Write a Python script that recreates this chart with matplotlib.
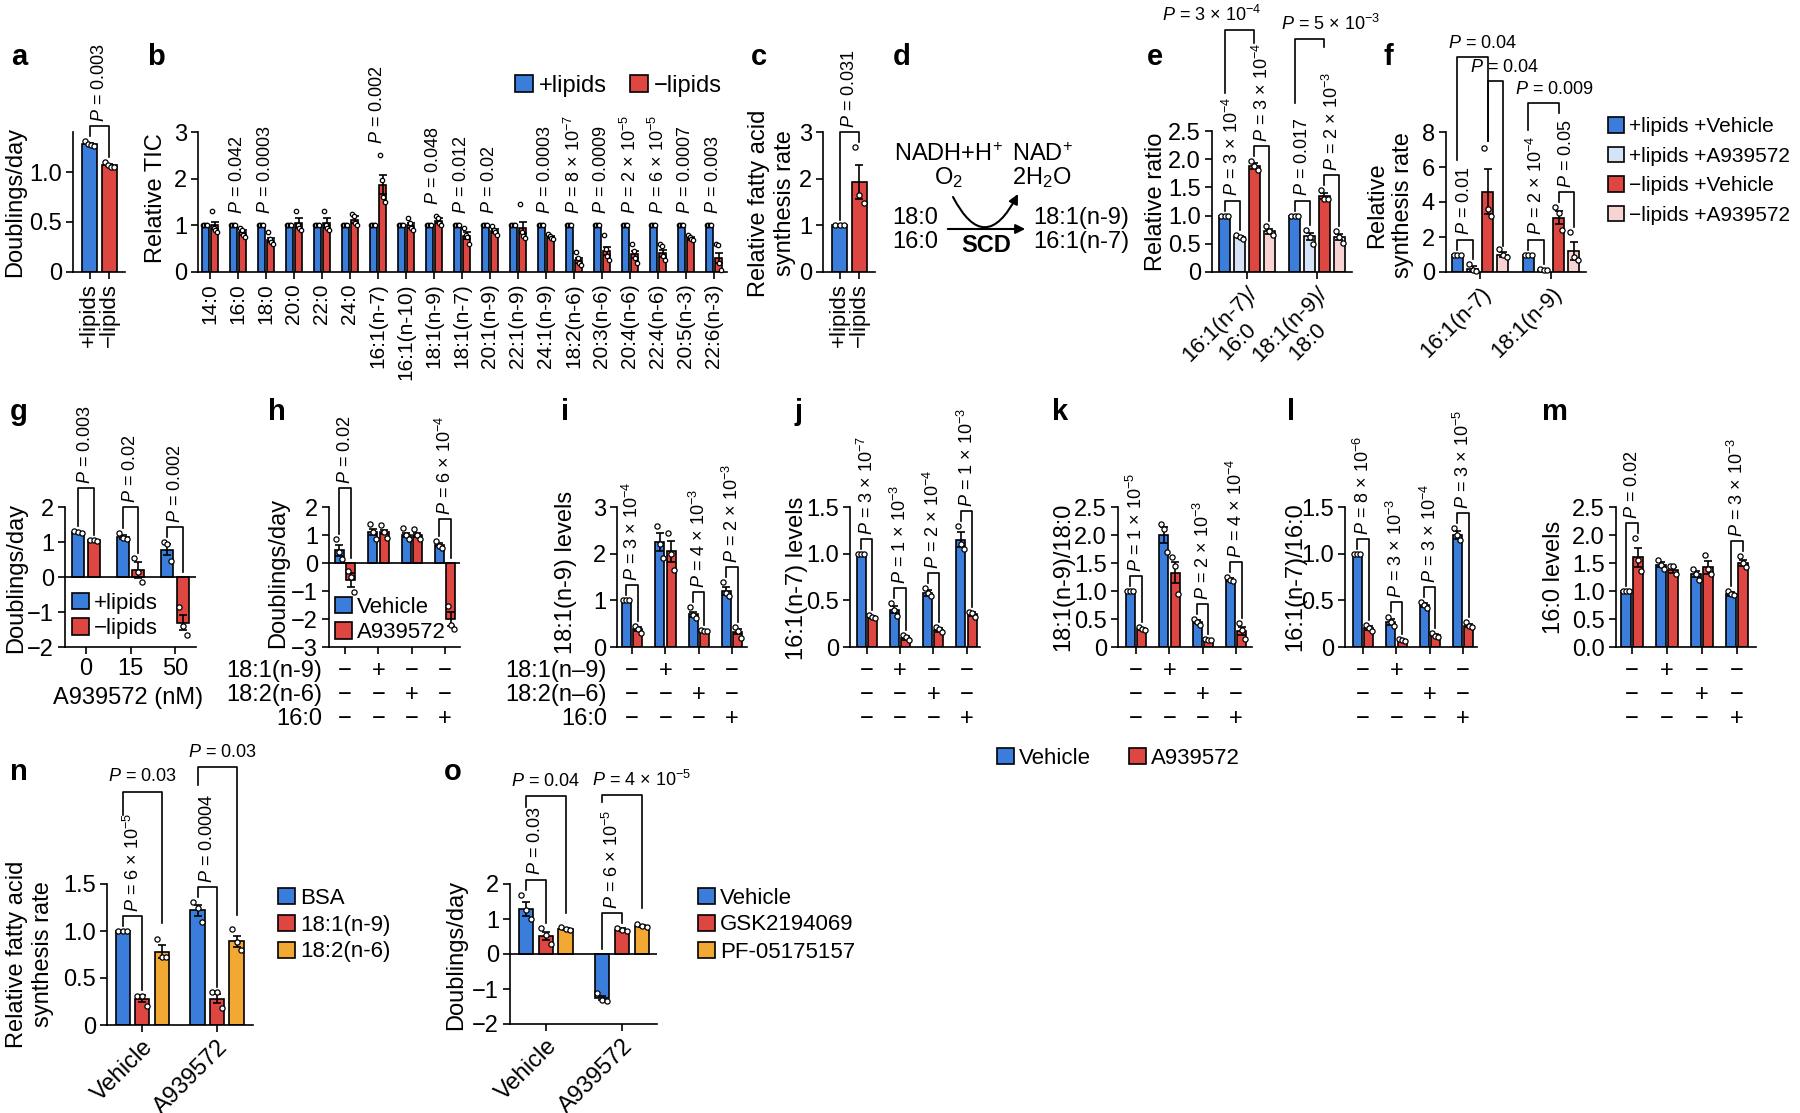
import numpy as np
import matplotlib
matplotlib.use('Agg')
import matplotlib.pyplot as plt
import matplotlib.transforms as mtransforms
from matplotlib.patches import Patch, FancyArrowPatch
from matplotlib.path import Path
from matplotlib.legend import Legend

plt.rcParams['font.family'] = ['Liberation Sans', 'DejaVu Sans']
plt.rcParams['mathtext.fontset'] = 'custom'
plt.rcParams['mathtext.rm'] = 'Liberation Sans'
plt.rcParams['mathtext.it'] = 'Liberation Sans:italic'
plt.rcParams['mathtext.bf'] = 'Liberation Sans:bold'
plt.rcParams['font.size'] = 17
plt.rcParams['axes.linewidth'] = 1.2

BLUE = '#3B7DDA'
LBLUE = '#D5E3F7'
RED = '#DD4641'
PINK = '#F7D3D3'
ORANGE = '#F1A934'
FS = 17

# ---------------- data ----------------
# a
lipid_conds = ['+lipids', '−lipids']
a_mean = [1.28, 1.07]
a_sem = [0.01, 0.01]
a_pts = [[1.31, 1.28, 1.27, 1.26], [1.10, 1.07, 1.05, 1.05]]
a_p = '0.003'

# b
b_species = ['14:0', '16:0', '18:0', '20:0', '22:0', '24:0', '16:1(n-7)', '16:1(n-10)',
             '18:1(n-9)', '18:1(n-7)', '20:1(n-9)', '22:1(n-9)', '24:1(n-9)', '18:2(n-6)',
             '20:3(n-6)', '20:4(n-6)', '22:4(n-6)', '20:5(n-3)', '22:6(n-3)']
b_plus = [1.0, 1.0, 1.0, 1.0, 1.0, 1.0, 1.0, 1.0, 1.0, 1.0, 1.0, 1.0, 1.0, 1.0, 1.0, 1.0, 1.0, 1.0, 1.0]
b_plus_pts = [[1.0, 1.0, 1.0, 1.0] for _ in b_species]
b_minus = [1.0, 0.85, 0.68, 1.05, 1.05, 1.12, 1.87, 1.0, 1.1, 0.78, 0.88, 0.95, 0.75,
           0.25, 0.45, 0.38, 0.4, 0.72, 0.3]
b_minus_sem = [0.08, 0.05, 0.04, 0.1, 0.1, 0.08, 0.2, 0.06, 0.05, 0.07, 0.04, 0.12, 0.03,
               0.05, 0.08, 0.07, 0.07, 0.03, 0.1]
b_minus_pts = [
    [1.30, 0.95, 0.90, 0.85], [0.95, 0.90, 0.80, 0.75], [0.85, 0.70, 0.65, 0.60],
    [1.30, 1.00, 0.95, 0.90], [1.30, 1.00, 0.95, 0.90], [1.25, 1.20, 1.05, 1.00],
    [2.50, 1.97, 1.60, 1.50], [1.15, 1.05, 0.95, 0.90], [1.20, 1.15, 1.05, 1.00],
    [0.95, 0.80, 0.75, 0.60], [0.98, 0.90, 0.85, 0.80], [1.45, 0.85, 0.78, 0.72],
    [0.82, 0.78, 0.72, 0.70], [0.42, 0.30, 0.20, 0.15], [0.80, 0.50, 0.35, 0.25],
    [0.60, 0.45, 0.30, 0.20], [0.60, 0.55, 0.35, 0.25], [0.80, 0.75, 0.70, 0.68],
    [0.60, 0.58, 0.20, 0.05]]
b_p = {1: '0.042', 2: '0.0003', 6: '0.002', 8: '0.048', 9: '0.012', 10: '0.02',
       12: '0.0003', 13: '8e-7', 14: '0.0009', 15: '2e-5', 16: '6e-5', 17: '0.0007', 18: '0.003'}

# c
c_mean = [1.0, 1.93]
c_sem = [0.0, 0.36]
c_pts = [[1.0, 1.0, 1.0], [2.68, 1.65, 1.48]]
c_p = '0.031'

# e
e_groups = ['16:1(n-7)/\n16:0', '18:1(n-9)/\n18:0']
e_mean = [[1.0, 0.62, 1.88, 0.72], [1.0, 0.63, 1.35, 0.62]]
e_sem = [[0.0, 0.02, 0.05, 0.05], [0.0, 0.07, 0.05, 0.05]]
e_pts = [[[1, 1, 1], [0.66, 0.62, 0.58], [1.97, 1.88, 1.80], [0.82, 0.72, 0.65]],
         [[1, 1, 1], [0.75, 0.62, 0.50], [1.45, 1.30, 1.30], [0.72, 0.62, 0.52]]]
e_p_pair = [['3e-4', '3e-4'], ['0.017', '2e-3']]
e_p_cross = ['3e-4', '5e-3']

# f
f_groups = ['16:1(n-7)', '18:1(n-9)']
f_mean = [[1.0, 0.2, 4.6, 1.0], [1.0, 0.1, 3.1, 1.2]]
f_sem = [[0.0, 0.12, 1.3, 0.15], [0.0, 0.02, 0.38, 0.5]]
f_pts = [[[1, 1, 1], [0.45, 0.1, 0.05], [7.1, 3.6, 3.2], [1.3, 1.0, 0.85]],
         [[1, 1, 1], [0.15, 0.12, 0.1], [3.7, 3.4, 2.4], [2.29, 0.86, 0.7]]]
f_p_pair = [['0.01', None], ['2e-4', '0.05']]
f_p_cross = ['0.04', '0.04', '0.009']
f_legend = ['+lipids +Vehicle', '+lipids +A939572', '−lipids +Vehicle', '−lipids +A939572']

# g
g_doses = ['0', '15', '50']
g_plus = [1.28, 1.15, 0.78]
g_plus_sem = [0.02, 0.05, 0.15]
g_plus_pts = [[1.32, 1.28, 1.26], [1.25, 1.12, 1.08], [1.0, 0.95, 0.45]]
g_minus = [1.05, 0.2, -1.3]
g_minus_sem = [0.01, 0.22, 0.22]
g_minus_pts = [[1.07, 1.05, 1.04], [0.55, 0.15, -0.15], [-0.85, -1.4, -1.65]]
g_p = ['0.003', '0.02', '0.002']

# h - m (Vehicle vs A939572, four supplement conditions)
cond_names_h = ['18:1(n-9)', '18:2(n-6)', '16:0']
cond_names_i = ['18:1(n–9)', '18:2(n–6)', '16:0']
cond_signs = [['−', '+', '−', '−'], ['−', '−', '+', '−'], ['−', '−', '−', '+']]
drug_legend = ['Vehicle', 'A939572']

h_veh = [0.45, 1.1, 1.0, 0.65]
h_veh_sem = [0.2, 0.1, 0.08, 0.05]
h_veh_pts = [[0.85, 0.4, 0.15], [1.4, 1.1, 0.85], [1.25, 1.0, 0.85], [0.8, 0.62, 0.55]]
h_a9 = [-0.6, 1.1, 1.0, -2.0]
h_a9_sem = [0.25, 0.08, 0.06, 0.25]
h_a9_pts = [[-0.3, -0.5, -1.05], [1.35, 1.1, 0.9], [1.2, 1.0, 0.85], [-1.55, -2.2, -2.35]]
h_p = {0: '0.02', 3: '6e-4'}

i_veh = [1.0, 2.25, 0.7, 1.2]
i_veh_sem = [0.0, 0.2, 0.06, 0.08]
i_veh_pts = [[1, 1, 1], [2.6, 2.2, 1.9], [0.85, 0.68, 0.62], [1.4, 1.15, 1.1]]
i_a9 = [0.38, 2.05, 0.35, 0.33]
i_a9_sem = [0.04, 0.22, 0.01, 0.06]
i_a9_pts = [[0.45, 0.38, 0.3], [2.45, 2.0, 1.65], [0.37, 0.35, 0.34], [0.42, 0.35, 0.2]]
i_p = {0: '3e-4', 2: '4e-3', 3: '2e-3'}

j_veh = [1.0, 0.4, 0.58, 1.15]
j_veh_sem = [0.0, 0.04, 0.03, 0.08]
j_veh_pts = [[1, 1, 1], [0.47, 0.4, 0.33], [0.63, 0.58, 0.55], [1.3, 1.1, 1.05]]
j_a9 = [0.32, 0.1, 0.18, 0.35]
j_a9_sem = [0.01, 0.02, 0.02, 0.02]
j_a9_pts = [[0.34, 0.32, 0.31], [0.13, 0.11, 0.08], [0.21, 0.19, 0.16], [0.38, 0.36, 0.32]]
j_p = {0: '3e-7', 1: '1e-3', 2: '2e-4', 3: '1e-3'}

k_veh = [1.0, 2.0, 0.45, 1.2]
k_veh_sem = [0.0, 0.15, 0.03, 0.03]
k_veh_pts = [[1, 1, 1], [2.2, 2.1, 1.7], [0.5, 0.45, 0.4], [1.25, 1.2, 1.18]]
k_a9 = [0.32, 1.33, 0.13, 0.28]
k_a9_sem = [0.02, 0.18, 0.02, 0.07]
k_a9_pts = [[0.35, 0.33, 0.3], [1.6, 1.45, 0.95], [0.15, 0.13, 0.12], [0.42, 0.3, 0.15]]
k_p = {0: '1e-5', 2: '2e-3', 3: '4e-4'}

l_veh = [1.0, 0.27, 0.45, 1.2]
l_veh_sem = [0.0, 0.03, 0.02, 0.04]
l_veh_pts = [[1, 1, 1], [0.32, 0.27, 0.22], [0.48, 0.45, 0.42], [1.27, 1.2, 1.15]]
l_a9 = [0.2, 0.07, 0.13, 0.23]
l_a9_sem = [0.02, 0.01, 0.01, 0.02]
l_a9_pts = [[0.24, 0.2, 0.17], [0.09, 0.07, 0.06], [0.15, 0.12, 0.11], [0.27, 0.23, 0.21]]
l_p = {0: '8e-6', 1: '3e-3', 2: '3e-4', 3: '3e-5'}

m_veh = [1.0, 1.47, 1.3, 0.95]
m_veh_sem = [0.0, 0.05, 0.05, 0.04]
m_veh_pts = [[1, 1, 1], [1.55, 1.47, 1.4], [1.4, 1.3, 1.2], [1.0, 0.95, 0.92]]
m_a9 = [1.6, 1.38, 1.42, 1.5]
m_a9_sem = [0.17, 0.05, 0.12, 0.05]
m_a9_pts = [[1.95, 1.55, 1.35], [1.45, 1.45, 1.3], [1.65, 1.4, 1.3], [1.62, 1.5, 1.42]]
m_p = {0: '0.02', 3: '3e-3'}

# n
no_groups = ['Vehicle', 'A939572']
n_legend = ['BSA', '18:1(n-9)', '18:2(n-6)']
n_mean = [[1.0, 0.28, 0.78], [1.22, 0.28, 0.89]]
n_sem = [[0.0, 0.04, 0.07], [0.06, 0.05, 0.06]]
n_pts = [[[1, 1, 1], [0.31, 0.31, 0.2], [0.91, 0.72, 0.72]],
         [[1.31, 1.25, 1.1], [0.35, 0.35, 0.18], [1.02, 0.88, 0.8]]]
n_p_pair = ['6e-5', '0.0004']
n_p_cross = ['0.03', '0.03']

# o
o_legend = ['Vehicle', 'GSK2194069', 'PF-05175157']
o_mean = [[1.3, 0.52, 0.72], [-1.25, 0.7, 0.8]]
o_sem = [[0.2, 0.12, 0.03], [0.05, 0.03, 0.02]]
o_pts = [[[1.7, 1.25, 1.0], [0.75, 0.55, 0.3], [0.78, 0.72, 0.7]],
         [[-1.1, -1.3, -1.35], [0.75, 0.7, 0.67], [0.85, 0.8, 0.78]]]
o_p_pair = ['0.03', '6e-5']
o_p_cross = ['0.04', '4e-5']

# ---------------- figure ----------------
W, H = 1800, 1113
fig = plt.figure(figsize=(18, 11.13), dpi=100)
ov = fig.add_axes([0, 0, 1, 1])
ov.set_xlim(0, W)
ov.set_ylim(H, 0)
ov.axis('off')


def ptxt(s):
    if 'e' in s:
        m, e = s.split('e')
        return '$P$ = ' + m + ' × 10$^{' + e + '}$'
    return '$P$ = ' + s


def new_ax(x0, x1, ytop, ybot, ylim, xlim):
    ax = fig.add_axes([x0 / W, 1 - ybot / H, (x1 - x0) / W, (ybot - ytop) / H])
    ax.set_ylim(ylim)
    ax.set_xlim(xlim)
    for s in ['top', 'right']:
        ax.spines[s].set_visible(False)
    ax.tick_params(direction='out', length=5, width=1.2, pad=3, labelsize=FS)
    ax.patch.set_visible(False)
    ax.ppu = (ybot - ytop) / (ylim[1] - ylim[0])
    return ax


def draw_bars(ax, xs, means, sems, pts, colors, width, ms=14):
    tops = []
    for x, m, s, p, c in zip(xs, means, sems, pts, colors):
        ax.bar(x, m, width, color=c, edgecolor='black', linewidth=1.2, zorder=2)
        if s > 0:
            ax.errorbar(x, m, yerr=s, fmt='none', ecolor='black', elinewidth=1.2,
                        capsize=3, capthick=1.2, zorder=3)
        off = np.linspace(-0.33, 0.33, len(p)) * width
        ax.scatter(x + off, p, s=ms, facecolor='white', edgecolor='black',
                   linewidths=0.9, zorder=4, clip_on=False)
        tops.append(max([m + s, 0] + list(p)))
    return tops


def pbracket(ax, x1, x2, t1, t2, text, top=None):
    g = 5 / ax.ppu
    y1, y2 = t1 + g, t2 + g
    if top is None:
        top = max(y1, y2) + 10 / ax.ppu
    ax.plot([x1, x1, x2, x2], [y1, top, top, y2], color='black', lw=1.2,
            clip_on=False, zorder=5)
    ax.annotate(ptxt(text), ((x1 + x2) / 2, top), xytext=(0, 3), textcoords='offset points',
                rotation=90, ha='center', va='bottom', fontsize=13, annotation_clip=False)


def hbracket(ax, x1, x2, y1, y2, top, text, tx, ty):
    ax.plot([x1, x1, x2, x2], [y1, top, top, y2], color='black', lw=1.2,
            clip_on=False, zorder=5)
    ax.text(tx, ty, ptxt(text), ha='center', va='bottom', fontsize=13)


def add_legend(labels, colors, x, y, ncol=1, spacing=0.3, colsp=1.0, fs=16):
    hs = [Patch(facecolor=c, edgecolor='black', linewidth=1.2) for c in colors]
    leg = Legend(ov, hs, labels, loc='center left', bbox_to_anchor=(x, y),
                 bbox_transform=ov.transData, ncol=ncol, frameon=False, borderpad=0,
                 borderaxespad=0, handlelength=0.75, handleheight=0.75, handletextpad=0.25,
                 labelspacing=spacing, columnspacing=colsp, fontsize=fs)
    ov.add_artist(leg)


def ylab(x, y, s):
    ov.text(x, y, s, rotation=90, ha='center', va='center', fontsize=FS, multialignment='center')


def letter(x, y, s):
    ov.text(x, y, s, fontsize=21, fontweight='bold', ha='left', va='baseline')


ROW_Y = [671, 695, 719]


def sign_rows(ax):
    tr = mtransforms.blended_transform_factory(ax.transData, ov.transData)
    for ys, signs in zip(ROW_Y, cond_signs):
        for gi, s in enumerate(signs):
            ax.text(gi, ys, s, transform=tr, ha='center', va='center', fontsize=FS)


# ---- a ----
ax = new_ax(73, 125, 132, 272, (0, 1.4), (-0.83, 1.78))
t = draw_bars(ax, [0, 1], a_mean, a_sem, a_pts, [BLUE, RED], 0.75)
ax.set_yticks([0, 0.5, 1.0], ['0', '0.5', '1.0'])
ax.set_xticks([0, 1], lipid_conds, rotation=90, fontsize=16)
pbracket(ax, 0, 1, t[0], t[1], a_p)
ylab(15, 202, 'Doublings/day')
letter(11, 65, 'a')

# ---- b ----
ax = new_ax(198, 727, 132, 272, (0, 3), (-0.42, 18.47))
xs = np.arange(len(b_species))
tb = draw_bars(ax, xs - 0.17, b_plus, [0] * len(xs), b_plus_pts, [BLUE] * len(xs), 0.25, ms=10)
tr_ = draw_bars(ax, xs + 0.17, b_minus, b_minus_sem, b_minus_pts, [RED] * len(xs), 0.25, ms=10)
ax.set_yticks([0, 1, 2, 3])
ax.set_xticks(xs, b_species, rotation=90, fontsize=15)
for i, s in b_p.items():
    ax.annotate(ptxt(s), (i, max(tb[i], tr_[i])), xytext=(0, 8), textcoords='offset points',
                rotation=90, ha='center', va='bottom', fontsize=13, annotation_clip=False)
ylab(156, 198, 'Relative TIC')
letter(147, 65, 'b')
add_legend(lipid_conds, [BLUE, RED], 515, 86, ncol=2, colsp=1.0, fs=17)

# ---- c ----
ax = new_ax(823, 875, 132, 272, (0, 3), (-0.83, 1.78))
t = draw_bars(ax, [0, 1], c_mean, c_sem, c_pts, [BLUE, RED], 0.75)
ax.set_yticks([0, 1, 2, 3])
ax.set_xticks([0, 1], lipid_conds, rotation=90, fontsize=16)
pbracket(ax, 0, 1, t[0], t[1], c_p)
ylab(772, 203, 'Relative fatty acid\nsynthesis rate')
letter(751, 65, 'c')

# ---- d (scheme) ----
letter(893, 65, 'd')
ov.text(948, 155, 'NADH+H$^{+}$', ha='center', va='center', fontsize=FS)
ov.text(948, 178, 'O$_{2}$', ha='center', va='center', fontsize=FS)
ov.text(1042, 155, 'NAD$^{+}$', ha='center', va='center', fontsize=FS)
ov.text(1042, 178, '2H$_{2}$O', ha='center', va='center', fontsize=FS)
ov.text(938, 218, '18:0', ha='right', va='center', fontsize=FS)
ov.text(938, 242, '16:0', ha='right', va='center', fontsize=FS)
ov.text(1033, 218, '18:1(n-9)', ha='left', va='center', fontsize=FS)
ov.text(1033, 242, '16:1(n-7)', ha='left', va='center', fontsize=FS)
ov.text(986, 246, 'SCD', ha='center', va='center', fontsize=FS, fontweight='bold')
ov.add_patch(FancyArrowPatch((945, 229), (1028, 229), arrowstyle='-|>', mutation_scale=14,
                             lw=1.5, color='black'))
curve = Path([(953, 197), (985, 258), (1018, 194)], [Path.MOVETO, Path.CURVE3, Path.CURVE3])
ov.add_patch(FancyArrowPatch(path=curve, arrowstyle='-|>', mutation_scale=14, lw=1.5, color='black'))

# ---- e ----
ax = new_ax(1212, 1352, 131, 272, (0, 2.5), (-0.5, 1.5))
off4 = np.array([-1.5, -0.5, 0.5, 1.5]) * 0.214
for gi in range(2):
    t = draw_bars(ax, gi + off4, e_mean[gi], e_sem[gi], e_pts[gi], [BLUE, LBLUE, RED, PINK], 0.155)
    pbracket(ax, gi + off4[0], gi + off4[1], t[0], t[1], e_p_pair[gi][0])
    pbracket(ax, gi + off4[2], gi + off4[3], t[2], t[3], e_p_pair[gi][1])
hbracket(ax, off4[0], off4[2], 3.17, 4.06, 4.29, e_p_cross[0], -0.5, 4.38)
hbracket(ax, 1 + off4[0], 1 + off4[2], 3.0, 3.99, 4.13, e_p_cross[1], 1.19, 4.22)
ax.set_yticks([0, 0.5, 1.0, 1.5, 2.0, 2.5], ['0', '0.5', '1.0', '1.5', '2.0', '2.5'])
ax.set_xticks([0, 1], e_groups, rotation=45, ha='right', rotation_mode='anchor',
              multialignment='center', fontsize=16)
ylab(1156, 202, 'Relative ratio')
letter(1147, 65, 'e')

# ---- f ----
ax = new_ax(1446, 1586, 132, 272, (0, 8), (-0.48, 1.49))
for gi in range(2):
    t = draw_bars(ax, gi + off4, f_mean[gi], f_sem[gi], f_pts[gi], [BLUE, LBLUE, RED, PINK], 0.155)
    if f_p_pair[gi][0]:
        pbracket(ax, gi + off4[0], gi + off4[1], t[0], t[1], f_p_pair[gi][0])
    if f_p_pair[gi][1]:
        pbracket(ax, gi + off4[2], gi + off4[3], t[2], t[3], f_p_pair[gi][1])
hbracket(ax, off4[0], off4[2], 6.4, 7.5, 12.3, f_p_cross[0], 0.03, 12.6)
hbracket(ax, off4[2], off4[3], 7.5, 1.5, 10.9, f_p_cross[1], 0.34, 11.2)
hbracket(ax, 1 + off4[0], 1 + off4[2], 8.1, 9.1, 9.66, f_p_cross[2], 1.04, 9.95)
ax.set_yticks([0, 2, 4, 6, 8])
ax.set_xticks([0, 1], f_groups, rotation=45, ha='right', rotation_mode='anchor', fontsize=16)
ylab(1390, 205, 'Relative\nsynthesis rate')
letter(1384, 65, 'f')
add_legend(f_legend, [BLUE, LBLUE, RED, PINK], 1608, 171, spacing=0.5, fs=15)

# ---- g ----
ax = new_ax(65, 196, 507, 647, (-2, 2), (-0.47, 2.47))
ax.axhline(0, color='black', lw=1.2, zorder=6)
xs = np.arange(3)
tb = draw_bars(ax, xs - 0.17, g_plus, g_plus_sem, g_plus_pts, [BLUE] * 3, 0.27)
tr_ = draw_bars(ax, xs + 0.17, g_minus, g_minus_sem, g_minus_pts, [RED] * 3, 0.27)
for gi, top in zip(range(3), [2.54, 2.0, None]):
    pbracket(ax, gi - 0.17, gi + 0.17, tb[gi], tr_[gi], g_p[gi], top)
ax.set_yticks([-2, -1, 0, 1, 2], ['−2', '−1', '0', '1', '2'])
ax.set_xticks(xs, g_doses)
ov.text(128, 698, 'A939572 (nM)', ha='center', va='center', fontsize=FS)
ylab(16, 578, 'Doublings/day')
letter(10, 420, 'g')
add_legend(lipid_conds, [BLUE, RED], 72, 616, spacing=0.2)


# ---- h - m ----
def drug_panel(box, ylim, xlim, veh, veh_sem, veh_pts, a9, a9_sem, a9_pts, pvals,
               tops=None, zero_line=False):
    ax = new_ax(*box, ylim, xlim)
    if zero_line:
        ax.axhline(0, color='black', lw=1.2, zorder=6)
    xs = np.arange(4)
    tb = draw_bars(ax, xs - 0.17, veh, veh_sem, veh_pts, [BLUE] * 4, 0.27)
    tr = draw_bars(ax, xs + 0.17, a9, a9_sem, a9_pts, [RED] * 4, 0.27)
    for gi, s in pvals.items():
        top = tops.get(gi) if tops else None
        pbracket(ax, gi - 0.17, gi + 0.17, tb[gi], tr[gi], s, top)
    ax.set_xticks(xs, [''] * 4)
    sign_rows(ax)
    return ax


ax = drug_panel((329, 460, 507, 647), (-3, 2), (-0.48, 3.45), h_veh, h_veh_sem, h_veh_pts,
                h_a9, h_a9_sem, h_a9_pts, h_p, tops={0: 2.68, 3: 1.57}, zero_line=True)
ax.set_yticks([-3, -2, -1, 0, 1, 2], ['−3', '−2', '−1', '0', '1', '2'])
for ys, nm in zip(ROW_Y, cond_names_h):
    ov.text(322, ys, nm, ha='right', va='center', fontsize=FS)
ylab(278, 573, 'Doublings/day')
letter(268, 420, 'h')
add_legend(drug_legend, [BLUE, RED], 335, 620, spacing=0.2)

ax = drug_panel((617, 747, 507, 647), (0, 3), (-0.45, 3.45), i_veh, i_veh_sem, i_veh_pts,
                i_a9, i_a9_sem, i_a9_pts, i_p)
ax.set_yticks([0, 1, 2, 3])
for ys, nm in zip(ROW_Y, cond_names_i):
    ov.text(607, ys, nm, ha='right', va='center', fontsize=FS)
ylab(566, 572, '18:1(n-9) levels')
letter(561, 420, 'i')

ax = drug_panel((850, 980, 507, 647), (0, 1.5), (-0.5, 3.4), j_veh, j_veh_sem, j_veh_pts,
                j_a9, j_a9_sem, j_a9_pts, j_p)
ax.set_yticks([0, 0.5, 1.0, 1.5], ['0', '0.5', '1.0', '1.5'])
ylab(797, 578, '16:1(n-7) levels')
letter(794, 420, 'j')

ax = drug_panel((1118, 1252, 507, 647), (0, 2.5), (-0.54, 3.48), k_veh, k_veh_sem, k_veh_pts,
                k_a9, k_a9_sem, k_a9_pts, k_p)
ax.set_yticks([0, 0.5, 1.0, 1.5, 2.0, 2.5], ['0', '0.5', '1.0', '1.5', '2.0', '2.5'])
ylab(1063, 577, '18:1(n-9)/18:0')
letter(1052, 420, 'k')

ax = drug_panel((1345, 1477, 507, 647), (0, 1.5), (-0.54, 3.42), l_veh, l_veh_sem, l_veh_pts,
                l_a9, l_a9_sem, l_a9_pts, l_p)
ax.set_yticks([0, 0.5, 1.0, 1.5], ['0', '0.5', '1.0', '1.5'])
ylab(1295, 577, '16:1(n-7)/16:0')
letter(1287, 420, 'l')

ax = drug_panel((1616, 1756, 507, 647), (0, 2.5), (-0.46, 3.54), m_veh, m_veh_sem, m_veh_pts,
                m_a9, m_a9_sem, m_a9_pts, m_p)
ax.set_yticks([0, 0.5, 1.0, 1.5, 2.0, 2.5], ['0.0', '0.5', '1.0', '1.5', '2.0', '2.5'])
ylab(1554, 577, '16:0 levels')
letter(1542, 420, 'm')

add_legend(drug_legend, [BLUE, RED], 997, 758, ncol=2, colsp=1.7)

# ---- n ----
ax = new_ax(107, 253, 884, 1025, (0, 1.5), (-0.47, 1.48))
off3 = np.array([-0.26, 0.0, 0.26])
for gi in range(2):
    t = draw_bars(ax, gi + off3, n_mean[gi], n_sem[gi], n_pts[gi], [BLUE, RED, ORANGE], 0.19)
    pbracket(ax, gi + off3[0], gi + off3[1], t[0], t[1], n_p_pair[gi])
hbracket(ax, off3[0], off3[2], 2.23, 1.09, 2.48, n_p_cross[0], 0.0, 2.55)
hbracket(ax, 1 + off3[0], 1 + off3[2], 2.55, 1.17, 2.74, n_p_cross[1], 1.07, 2.81)
ax.set_yticks([0, 0.5, 1.0, 1.5], ['0', '0.5', '1.0', '1.5'])
ax.set_xticks([0, 1], no_groups, rotation=45, ha='right', rotation_mode='anchor')
ylab(30, 954, 'Relative fatty acid\nsynthesis rate')
letter(10, 780, 'n')
add_legend(n_legend, [BLUE, RED, ORANGE], 278, 925, spacing=0.27)

# ---- o ----
ax = new_ax(510, 657, 884, 1024, (-2, 2), (-0.47, 1.46))
ax.axhline(0, color='black', lw=1.2, zorder=6)
for gi in range(2):
    t = draw_bars(ax, gi + off3, o_mean[gi], o_sem[gi], o_pts[gi], [BLUE, RED, ORANGE], 0.19)
    pbracket(ax, gi + off3[0], gi + off3[1], t[0], t[1], o_p_pair[gi])
hbracket(ax, off3[0], off3[2], 4.2, 1.17, 4.51, o_p_cross[0], 0.0, 4.68)
hbracket(ax, 1 + off3[0], 1 + off3[2], 4.34, 1.31, 4.54, o_p_cross[1], 1.26, 4.68)
ax.set_yticks([-2, -1, 0, 1, 2], ['−2', '−1', '0', '1', '2'])
ax.set_xticks([0, 1], no_groups, rotation=45, ha='right', rotation_mode='anchor')
ylab(456, 955, 'Doublings/day')
letter(444, 780, 'o')
add_legend(o_legend, [BLUE, RED, ORANGE], 698, 925, spacing=0.27)

fig.savefig('out.png', dpi=100)
